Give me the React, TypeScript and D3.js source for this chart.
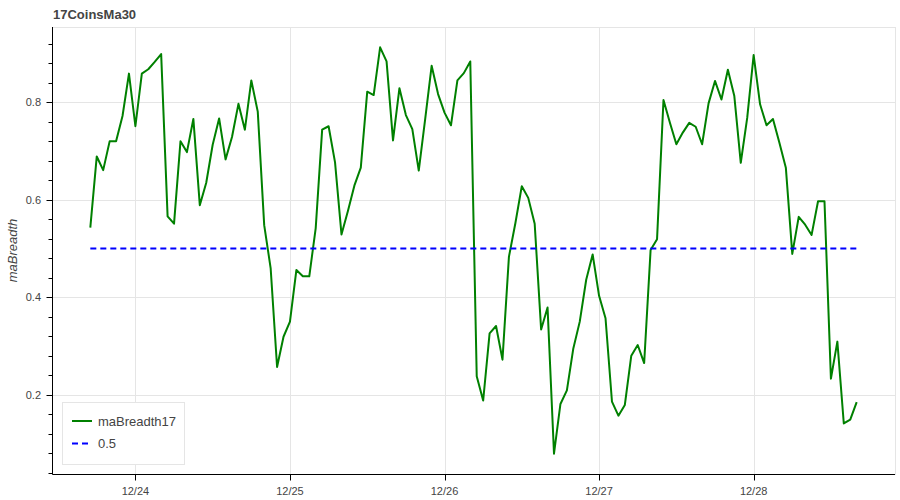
import React, { useEffect, useRef } from "react";
import * as d3 from "d3";

const title = "17CoinsMa30";
const yLabel = "maBreadth";
const seriesName = "maBreadth17";
const refName = "0.5";
const refValue = 0.5;

// hourly samples, first one at 12/23 17:00
const startTime = new Date(2024, 11, 23, 17);
const breadth = [
  0.543, 0.689, 0.661, 0.72, 0.72, 0.772, 0.859, 0.751, 0.859, 0.868,
  0.883, 0.899, 0.566, 0.551, 0.72, 0.698, 0.766, 0.589, 0.635, 0.713,
  0.767, 0.683, 0.729, 0.797, 0.744, 0.845, 0.781, 0.548, 0.46, 0.257,
  0.319, 0.35, 0.456, 0.443, 0.443, 0.542, 0.744, 0.751, 0.677, 0.529,
  0.577, 0.629, 0.666, 0.822, 0.815, 0.913, 0.884, 0.722, 0.829, 0.774,
  0.745, 0.66, 0.766, 0.875, 0.817, 0.779, 0.753, 0.845, 0.86, 0.884,
  0.238, 0.188, 0.326, 0.341, 0.272, 0.483, 0.552, 0.628, 0.604, 0.551,
  0.334, 0.379, 0.079, 0.181, 0.209, 0.295, 0.35, 0.436, 0.488, 0.403,
  0.357, 0.186, 0.157, 0.179, 0.28, 0.302, 0.265, 0.497, 0.519, 0.805,
  0.758, 0.714, 0.738, 0.758, 0.75, 0.714, 0.798, 0.844, 0.806, 0.867,
  0.813, 0.676, 0.768, 0.897, 0.796, 0.753, 0.766, 0.717, 0.666, 0.489,
  0.565, 0.549, 0.528, 0.597, 0.597, 0.233, 0.309, 0.141, 0.149, 0.185,
];
const yTicks = [0.2, 0.4, 0.6, 0.8];
const xTickDays = [24, 25, 26, 27, 28];
const xTickLabels = ["12/24", "12/25", "12/26", "12/27", "12/28"];

const W = 900;
const H = 500;
const plot = { left: 52, right: 895, top: 27, bottom: 474 };
const FONT = "'Liberation Sans', Arial, Helvetica, sans-serif";
const GRID = "#e5e5e5";
const TEXT = "#444444";

type Pt = { t: Date; v: number };

function App() {
  const ref = useRef<SVGSVGElement>(null);

  useEffect(() => {
    const svg = d3.select(ref.current);
    svg.selectAll("*").remove();

    const data: Pt[] = breadth.map((v, i) => ({
      t: d3.timeHour.offset(startTime, i),
      v,
    }));

    // bokeh style 5% range padding on each side
    const tExt = d3.extent(data, (d) => d.t) as [Date, Date];
    const tPad = (+tExt[1] - +tExt[0]) * 0.05;
    const x = d3
      .scaleTime()
      .domain([new Date(+tExt[0] - tPad), new Date(+tExt[1] + tPad)])
      .range([plot.left, plot.right]);

    const vExt = d3.extent(data, (d) => d.v) as [number, number];
    const vPad = (vExt[1] - vExt[0]) * 0.05;
    const y = d3
      .scaleLinear()
      .domain([vExt[0] - vPad, vExt[1] + vPad])
      .range([plot.bottom, plot.top]);

    const px = (n: number) => Math.round(n) + 0.5;

    svg.append("rect").attr("width", W).attr("height", H).attr("fill", "#fff");

    // grid
    const tickDates = xTickDays.map((d) => new Date(2024, 11, d));
    const grid = svg.append("g").attr("stroke", GRID).attr("stroke-width", 1);
    grid
      .selectAll("line.gx")
      .data(tickDates)
      .enter()
      .append("line")
      .attr("x1", (d) => px(x(d)))
      .attr("x2", (d) => px(x(d)))
      .attr("y1", plot.top)
      .attr("y2", plot.bottom);
    grid
      .selectAll("line.gy")
      .data(yTicks)
      .enter()
      .append("line")
      .attr("x1", plot.left)
      .attr("x2", plot.right)
      .attr("y1", (d) => px(y(d)))
      .attr("y2", (d) => px(y(d)));

    // outline
    svg
      .append("rect")
      .attr("x", plot.left + 0.5)
      .attr("y", plot.top + 0.5)
      .attr("width", plot.right - plot.left)
      .attr("height", plot.bottom - plot.top)
      .attr("fill", "none")
      .attr("stroke", GRID);

    // series
    const line = d3
      .line<Pt>()
      .x((d) => x(d.t))
      .y((d) => y(d.v));
    svg
      .append("path")
      .datum(data)
      .attr("d", line)
      .attr("fill", "none")
      .attr("stroke", "green")
      .attr("stroke-width", 2)
      .attr("stroke-linejoin", "round");

    svg
      .append("line")
      .attr("x1", x(tExt[0]))
      .attr("x2", x(tExt[1]))
      .attr("y1", y(refValue))
      .attr("y2", y(refValue))
      .attr("stroke", "blue")
      .attr("stroke-width", 2)
      .attr("stroke-dasharray", "6 4");

    // axes
    const axes = svg.append("g").attr("stroke", "#000").attr("stroke-width", 1);
    axes
      .append("line")
      .attr("x1", px(plot.left))
      .attr("x2", px(plot.left))
      .attr("y1", plot.top)
      .attr("y2", px(plot.bottom));
    axes
      .append("line")
      .attr("x1", px(plot.left))
      .attr("x2", plot.right)
      .attr("y1", px(plot.bottom))
      .attr("y2", px(plot.bottom));

    const [y0, y1] = y.domain();
    const minor = d3.range(Math.ceil(y0 / 0.04) * 0.04, y1, 0.04);
    axes
      .selectAll("line.ymin")
      .data(minor)
      .enter()
      .append("line")
      .attr("x1", px(plot.left) - 4)
      .attr("x2", px(plot.left))
      .attr("y1", (d) => px(y(d)))
      .attr("y2", (d) => px(y(d)));
    axes
      .selectAll("line.ymaj")
      .data(yTicks)
      .enter()
      .append("line")
      .attr("x1", px(plot.left) - 6)
      .attr("x2", px(plot.left))
      .attr("y1", (d) => px(y(d)))
      .attr("y2", (d) => px(y(d)));
    axes
      .selectAll("line.xmaj")
      .data(tickDates)
      .enter()
      .append("line")
      .attr("x1", (d) => px(x(d)))
      .attr("x2", (d) => px(x(d)))
      .attr("y1", px(plot.bottom))
      .attr("y2", px(plot.bottom) + 6);

    svg
      .selectAll("text.ylab")
      .data(yTicks)
      .enter()
      .append("text")
      .attr("x", plot.left - 11)
      .attr("y", (d) => y(d))
      .attr("dy", "0.35em")
      .attr("text-anchor", "end")
      .attr("font-family", FONT)
      .attr("font-size", 11)
      .attr("fill", TEXT)
      .text((d) => d3.format(".1f")(d));

    svg
      .selectAll("text.xlab")
      .data(tickDates)
      .enter()
      .append("text")
      .attr("x", (d) => x(d))
      .attr("y", 495)
      .attr("text-anchor", "middle")
      .attr("font-family", FONT)
      .attr("font-size", 11)
      .attr("fill", TEXT)
      .text((_, i) => xTickLabels[i]);

    svg
      .append("text")
      .attr("transform", `translate(17,${(plot.top + plot.bottom) / 2}) rotate(-90)`)
      .attr("text-anchor", "middle")
      .attr("font-family", FONT)
      .attr("font-size", 13)
      .attr("font-style", "italic")
      .attr("fill", TEXT)
      .text(yLabel);

    svg
      .append("text")
      .attr("x", 53)
      .attr("y", 19)
      .attr("font-family", FONT)
      .attr("font-size", 13)
      .attr("font-weight", "bold")
      .attr("fill", TEXT)
      .text(title);

    // legend
    const lg = svg.append("g").attr("transform", "translate(62,402)");
    lg.append("rect")
      .attr("x", 0.5)
      .attr("y", 0.5)
      .attr("width", 122)
      .attr("height", 62)
      .attr("fill", "#fff")
      .attr("stroke", GRID);
    const items = [
      { name: seriesName, color: "green", dash: null },
      { name: refName, color: "blue", dash: "6 4" },
    ];
    items.forEach((it, i) => {
      const cy = 19 + i * 22.5;
      lg.append("line")
        .attr("x1", 10)
        .attr("x2", 30)
        .attr("y1", cy)
        .attr("y2", cy)
        .attr("stroke", it.color)
        .attr("stroke-width", 2)
        .attr("stroke-dasharray", it.dash);
      lg.append("text")
        .attr("x", 36)
        .attr("y", cy)
        .attr("dy", "0.35em")
        .attr("font-family", FONT)
        .attr("font-size", 13)
        .attr("fill", TEXT)
        .text(it.name);
    });
  }, []);

  return (
    <div style={{ position: "absolute", left: 0, top: 0 }}>
      <svg ref={ref} width={W} height={H} style={{ display: "block" }} />
    </div>
  );
}

export default App;
